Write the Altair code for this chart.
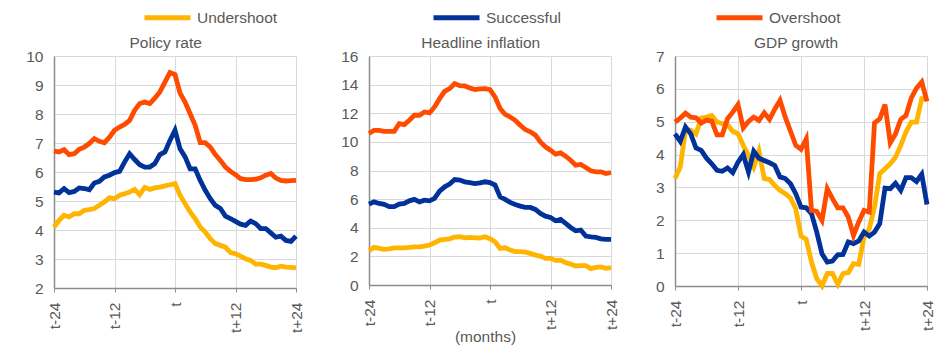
import altair as alt
import pandas as pd

months = list(range(-24, 25))
groups = ["Undershoot", "Successful", "Overshoot"]
colors = ["#FFB400", "#003299", "#FF4B00"]
tick_months = [-24, -12, 0, 12, 24]

# Policy rate
policy_under = [4.10, 4.33, 4.51, 4.45, 4.56, 4.56, 4.68, 4.70, 4.74, 4.85, 4.97, 5.11, 5.08,
                5.20, 5.25, 5.31, 5.40, 5.22, 5.47, 5.40, 5.45, 5.48, 5.52, 5.56, 5.60,
                5.20, 4.91, 4.62, 4.39, 4.10, 3.93, 3.70, 3.53, 3.47, 3.41, 3.22, 3.18,
                3.10, 3.01, 2.95, 2.82, 2.82, 2.78, 2.72, 2.70, 2.75, 2.72, 2.71, 2.69]
policy_succ = [5.31, 5.28, 5.43, 5.29, 5.33, 5.45, 5.43, 5.39, 5.62, 5.68, 5.83, 5.89, 5.98,
               6.02, 6.34, 6.63, 6.43, 6.25, 6.17, 6.17, 6.29, 6.60, 6.69, 7.09, 7.44,
               6.80, 6.52, 6.11, 6.11, 5.71, 5.37, 5.08, 4.85, 4.74, 4.48, 4.39, 4.30,
               4.20, 4.16, 4.31, 4.22, 4.05, 4.05, 3.90, 3.75, 3.79, 3.64, 3.61, 3.79]
policy_over = [6.72, 6.69, 6.77, 6.60, 6.63, 6.78, 6.86, 6.98, 7.15, 7.06, 7.01, 7.20, 7.44,
               7.55, 7.64, 7.78, 8.13, 8.36, 8.41, 8.36, 8.55, 8.76, 9.10, 9.43, 9.36,
               8.72, 8.41, 8.01, 7.61, 7.01, 7.01, 6.86, 6.60, 6.40, 6.17, 6.02, 5.91,
               5.77, 5.74, 5.74, 5.75, 5.80, 5.89, 5.95, 5.79, 5.71, 5.69, 5.70, 5.71]

# Headline inflation
infl_under = [2.40, 2.63, 2.56, 2.49, 2.53, 2.60, 2.60, 2.60, 2.63, 2.67, 2.67, 2.72, 2.79,
              2.95, 3.14, 3.19, 3.23, 3.35, 3.37, 3.30, 3.33, 3.30, 3.28, 3.37, 3.23,
              3.02, 2.56, 2.60, 2.44, 2.33, 2.33, 2.30, 2.21, 2.09, 2.02, 1.86, 1.86,
              1.72, 1.74, 1.56, 1.47, 1.33, 1.35, 1.35, 1.14, 1.23, 1.26, 1.16, 1.21]
infl_succ = [5.65, 5.81, 5.70, 5.63, 5.47, 5.47, 5.65, 5.70, 5.88, 5.98, 5.81, 5.93, 5.88,
             6.05, 6.56, 6.86, 7.05, 7.37, 7.33, 7.21, 7.16, 7.09, 7.14, 7.21, 7.16,
             6.98, 6.16, 5.98, 5.77, 5.63, 5.51, 5.42, 5.42, 5.28, 5.00, 4.81, 4.72,
             4.49, 4.58, 4.30, 4.02, 3.79, 3.84, 3.42, 3.37, 3.33, 3.23, 3.19, 3.19]
infl_over = [10.58, 10.81, 10.81, 10.74, 10.74, 10.74, 11.28, 11.21, 11.51, 11.86, 11.86, 12.09, 12.02,
             12.44, 13.02, 13.53, 13.72, 14.07, 13.93, 13.91, 13.77, 13.65, 13.70, 13.72, 13.65,
             13.14, 12.33, 11.93, 11.74, 11.51, 11.16, 10.86, 10.70, 10.47, 10.00, 9.65, 9.42,
             9.14, 9.23, 9.00, 8.72, 8.37, 8.42, 8.21, 7.98, 7.91, 7.91, 7.79, 7.86]

# GDP growth
gdp_under = [3.27, 3.62, 4.74, 4.74, 4.63, 5.11, 5.14, 5.19, 4.99, 4.94, 4.91, 4.71, 4.63,
             4.28, 3.98, 3.62, 4.10, 3.27, 3.24, 3.06, 2.91, 2.81, 2.68, 2.35, 1.52,
             1.42, 0.73, 0.22, 0.00, 0.38, 0.38, 0.05, 0.38, 0.41, 0.68, 0.66, 1.49,
             1.74, 2.40, 3.42, 3.57, 3.72, 3.92, 4.28, 4.69, 4.99, 4.99, 5.70, 5.70]
gdp_succ = [4.63, 4.40, 4.84, 4.63, 4.20, 4.13, 3.89, 3.72, 3.52, 3.49, 3.59, 3.45, 3.77,
            4.00, 3.47, 4.10, 3.89, 3.82, 3.75, 3.67, 3.32, 3.27, 3.11, 2.81, 2.40,
            2.38, 2.20, 1.64, 0.98, 0.73, 0.76, 0.95, 0.96, 1.34, 1.29, 1.37, 1.64,
            1.52, 1.64, 1.90, 2.98, 2.96, 3.13, 2.91, 3.30, 3.30, 3.18, 3.40, 2.48]
gdp_over = [4.99, 5.11, 5.26, 5.14, 5.12, 4.96, 5.05, 5.02, 4.60, 4.60, 5.09, 5.29, 5.52,
            4.81, 5.01, 5.14, 5.04, 5.27, 5.07, 5.38, 5.65, 5.14, 4.71, 4.28, 4.16,
            4.48, 2.30, 2.27, 2.00, 2.96, 2.66, 2.38, 2.38, 2.10, 1.54, 1.95, 2.30,
            2.25, 4.96, 5.09, 5.52, 4.36, 4.63, 5.07, 5.19, 5.72, 6.02, 6.21, 5.62]

FONT = "Liberation Sans"
TXT = "#595959"
FS = 15.5

label_expr = ("datum.value == 0 ? 't' : (datum.value > 0 ? 't+' + datum.value : 't' + datum.value)")


def panel(title, under, succ, over, ymin, ymax, ystep, width, height, xtitle):
    df = pd.DataFrame({
        "month": months * 3,
        "value": under + succ + over,
        "group": [g for g in groups for _ in months],
    })
    x_axis = alt.Axis(values=tick_months, labelExpr=label_expr, labelAngle=270,
                      tickSize=4, labelPadding=10, grid=True, titlePadding=0,
                      titleX=116)
    return alt.Chart(df, title=alt.Title(title, frame="bounds", offset=-2)).mark_line(
        strokeWidth=4.8).encode(
        x=alt.X("month:Q", scale=alt.Scale(domain=[-24, 24], nice=False, zero=False),
                axis=x_axis, title=xtitle),
        y=alt.Y("value:Q", scale=alt.Scale(domain=[ymin, ymax], nice=False, zero=False),
                axis=alt.Axis(values=list(range(ymin, ymax + 1, ystep)), ticks=False,
                              labelPadding=11, grid=True),
                title=None),
        color=alt.Color("group:N",
                        scale=alt.Scale(domain=groups, range=colors),
                        legend=alt.Legend(orient="none", legendX=88, legendY=-64,
                                          direction="horizontal", title=None,
                                          symbolType="stroke", symbolSize=2116,
                                          symbolStrokeWidth=5, labelOffset=4,
                                          columnPadding=145, labelFontSize=FS,
                                          labelFont=FONT, labelColor=TXT)),
        detail="group:N",
    ).properties(width=width, height=height)


p1 = panel("Policy rate", policy_under, policy_succ, policy_over, 2, 10, 1, 242, 232, None)
p2 = panel("Headline inflation", infl_under, infl_succ, infl_over, 0, 16, 2, 242, 229, "(months)")
p3 = panel("GDP growth", gdp_under, gdp_succ, gdp_over, 0, 7, 1, 252, 230, None)

chart = alt.hconcat(p1, p2, p3, spacing=34).properties(
    padding={"left": 25, "top": -8, "right": 5, "bottom": 5},
    background="white",
).configure_axis(
    gridColor="#d9d9d9", gridWidth=1,
    domainColor="#8c8c8c", domainWidth=1.5,
    tickColor="#8c8c8c",
    labelFont=FONT, labelFontSize=FS, labelColor=TXT,
    titleFont=FONT, titleFontSize=FS, titleColor=TXT, titleFontWeight="normal",
).configure_title(
    font=FONT, fontSize=FS, color=TXT, fontWeight="normal",
).configure_view(strokeWidth=0)

chart.save("out.html", embed_options={"renderer": "svg", "actions": False})
